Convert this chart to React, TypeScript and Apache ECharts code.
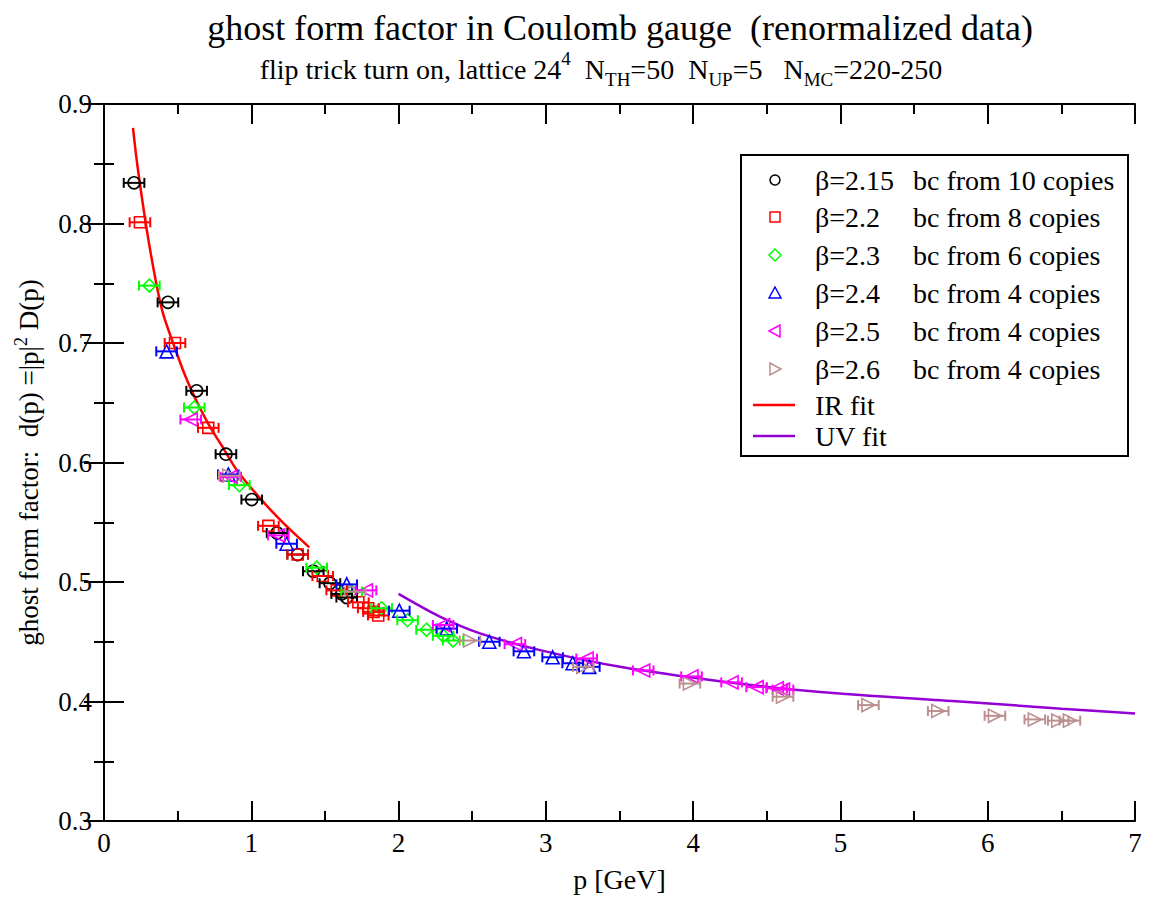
import React, { useEffect, useRef } from "react";
import * as echarts from "echarts";

// ---------- data ----------
const BETA_LABELS = ["β=2.15", "β=2.2", "β=2.3", "β=2.4", "β=2.5", "β=2.6"];
const COPIES_LABELS = [
  "bc from 10 copies",
  "bc from 8 copies",
  "bc from 6 copies",
  "bc from 4 copies",
  "bc from 4 copies",
  "bc from 4 copies",
];
const FIT_LABELS = ["IR fit", "UV fit"];

// [p, d(p)]
const B215 = [
  [0.204, 0.834], [0.434, 0.734], [0.629, 0.66], [0.828, 0.607], [1.003, 0.569],
  [1.175, 0.541], [1.315, 0.523], [1.421, 0.509], [1.534, 0.499], [1.614, 0.49], [1.648, 0.487],
];
const B22 = [
  [0.244, 0.801], [0.482, 0.7], [0.708, 0.629], [1.116, 0.547], [1.315, 0.523], [1.485, 0.505],
  [1.58, 0.493], [1.727, 0.483], [1.794, 0.478], [1.83, 0.475], [1.862, 0.472],
];
const B23 = [
  [0.308, 0.748], [0.613, 0.646], [0.919, 0.581], [1.444, 0.512], [1.681, 0.492], [1.885, 0.478],
  [2.061, 0.468], [2.19, 0.46], [2.303, 0.455], [2.37, 0.451],
];
const B24 = [
  [0.425, 0.693], [0.844, 0.59], [1.24, 0.532], [1.648, 0.498], [2.005, 0.476], [2.327, 0.461],
  [2.616, 0.45], [2.851, 0.442], [3.046, 0.437], [3.182, 0.432], [3.295, 0.429],
];
const B25 = [
  [0.589, 0.636], [0.86, 0.588], [1.183, 0.539], [1.779, 0.493], [2.303, 0.464], [2.79, 0.448],
  [3.277, 0.436], [3.661, 0.426], [3.989, 0.421], [4.261, 0.416], [4.431, 0.412], [4.567, 0.411],
  [4.61, 0.41],
];
const B26 = [
  [0.85, 0.589], [1.704, 0.492], [2.485, 0.451], [3.254, 0.429], [3.978, 0.415], [4.61, 0.404],
  [5.19, 0.397], [5.664, 0.392], [6.049, 0.388], [6.32, 0.385], [6.479, 0.384], [6.558, 0.384],
];
const DATASETS = [B215, B22, B23, B24, B25, B26];
// horizontal error half-width in p for each beta
const XERR = [0.07, 0.07, 0.07, 0.07, 0.07, 0.07];

const IR_FIT = [
  [0.197, 0.88], [0.22, 0.855], [0.25, 0.828], [0.29, 0.795], [0.35, 0.753],
  [0.4, 0.725], [0.475, 0.698], [0.55, 0.673], [0.63, 0.651], [0.71, 0.632],
  [0.8, 0.614], [0.9, 0.594], [1.06, 0.57], [1.22, 0.549], [1.394, 0.529],
];
const UV_FIT = [
  [2.0, 0.49], [2.28, 0.471], [2.553, 0.457], [2.96, 0.443], [3.503, 0.429],
  [4.182, 0.417], [4.861, 0.408], [5.811, 0.4], [6.5, 0.394], [7.0, 0.39],
];

// ---------- styles ----------
const COLORS = ["#000000", "#ff0000", "#00ff00", "#0000ff", "#ff00ff", "#bc8f8f"];
const FIT_COLORS = ["#ff0000", "#9400d3"];
const SYMBOLS = ["circle", "rect", "diamond", "triangle", "triangle", "triangle"];
const ROTATES = [0, 0, 0, 0, 90, -90];
const SYMBOL_SIZES = [12, 11, 13, 13, 13, 13];
const FONT = '"Liberation Serif", "DejaVu Serif", serif';

function legendMarker(i: number, cx: number, cy: number) {
  const style = { fill: "none", stroke: COLORS[i], lineWidth: 1.5 };
  switch (i) {
    case 0:
      return { type: "circle", shape: { cx, cy, r: 5 }, style };
    case 1:
      return { type: "rect", shape: { x: cx - 5, y: cy - 5, width: 10, height: 10 }, style };
    case 2:
      return { type: "polygon", shape: { points: [[cx, cy - 6], [cx + 6, cy], [cx, cy + 6], [cx - 6, cy]] }, style };
    case 3:
      return { type: "polygon", shape: { points: [[cx, cy - 6], [cx + 6, cy + 5], [cx - 6, cy + 5]] }, style };
    case 4:
      return { type: "polygon", shape: { points: [[cx - 6, cy], [cx + 5, cy - 6], [cx + 5, cy + 6]] }, style };
    default:
      return { type: "polygon", shape: { points: [[cx + 6, cy], [cx - 5, cy - 6], [cx - 5, cy + 6]] }, style };
  }
}

export default function App() {
  const ref = useRef<HTMLDivElement>(null);

  useEffect(() => {
    if (!ref.current) return;
    const chart = echarts.init(ref.current, undefined, { renderer: "svg" });

    const axisLine = { show: true, lineStyle: { color: "#000", width: 2 } };
    const axisTick = { show: true, inside: true, length: 20, lineStyle: { color: "#000", width: 2 } };
    const minorTick = { show: true, splitNumber: 2, length: 10, lineStyle: { color: "#000", width: 2 } };
    const labelStyle = { fontFamily: FONT, fontSize: 27, color: "#000" };

    const scatterSeries = DATASETS.map((d, i) => ({
      type: "scatter",
      name: BETA_LABELS[i] + " " + COPIES_LABELS[i],
      data: d,
      symbol: SYMBOLS[i],
      symbolSize: SYMBOL_SIZES[i],
      symbolRotate: ROTATES[i],
      itemStyle: { color: "rgba(0,0,0,0)", borderColor: COLORS[i], borderWidth: 1.6, opacity: 1 },
      z: 3,
    }));

    const errorSeries = DATASETS.map((d, i) => ({
      type: "custom",
      name: BETA_LABELS[i] + " error",
      data: d.map((p) => [p[0], p[1], XERR[i]]),
      encode: { x: 0, y: 1 },
      z: 4,
      renderItem: (params: any, api: any) => {
        const x = api.value(0);
        const y = api.value(1);
        const e = api.value(2);
        const l = api.coord([x - e, y]);
        const r = api.coord([x + e, y]);
        const st = { stroke: COLORS[i], lineWidth: 2 };
        return {
          type: "group",
          children: [
            { type: "line", shape: { x1: l[0], y1: l[1], x2: r[0], y2: r[1] }, style: st },
            { type: "line", shape: { x1: l[0], y1: l[1] - 5, x2: l[0], y2: l[1] + 5 }, style: st },
            { type: "line", shape: { x1: r[0], y1: r[1] - 5, x2: r[0], y2: r[1] + 5 }, style: st },
          ],
        };
      },
    }));

    const fitSeries = [IR_FIT, UV_FIT].map((d, i) => ({
      type: "line",
      name: FIT_LABELS[i],
      data: d,
      smooth: 0.3,
      showSymbol: false,
      lineStyle: { color: FIT_COLORS[i], width: 2.5 },
      z: 2,
    }));

    // legend drawn as graphic
    const rowsY = [180, 217, 255, 293, 331, 369];
    const fitRowsY = [405, 436];
    const legendChildren: any[] = [
      { type: "rect", shape: { x: 741, y: 155, width: 387, height: 301 }, style: { fill: "#fff", stroke: "#000", lineWidth: 2 } },
    ];
    rowsY.forEach((y, i) => {
      legendChildren.push(legendMarker(i, 775, y));
      legendChildren.push({
        type: "text", x: 815, y,
        style: { text: BETA_LABELS[i], fontFamily: FONT, fontSize: 28, fill: "#000", align: "left", verticalAlign: "middle" },
      });
      legendChildren.push({
        type: "text", x: 913, y,
        style: { text: COPIES_LABELS[i], fontFamily: FONT, fontSize: 28, fill: "#000", align: "left", verticalAlign: "middle" },
      });
    });
    fitRowsY.forEach((y, i) => {
      legendChildren.push({ type: "line", shape: { x1: 753, y1: y, x2: 795, y2: y }, style: { stroke: FIT_COLORS[i], lineWidth: 2.5 } });
      legendChildren.push({
        type: "text", x: 815, y,
        style: { text: FIT_LABELS[i], fontFamily: FONT, fontSize: 28, fill: "#000", align: "left", verticalAlign: "middle" },
      });
    });

    chart.setOption({
      animation: false,
      backgroundColor: "#fff",
      grid: { left: 104, top: 104, right: 17, bottom: 73, containLabel: false },
      xAxis: [
        {
          type: "value", min: 0, max: 7, interval: 1, position: "bottom",
          axisLine, axisTick, minorTick, splitLine: { show: false }, minorSplitLine: { show: false },
          axisLabel: { ...labelStyle, margin: 8 },
          name: "p [GeV]", nameLocation: "middle", nameGap: 44,
          nameTextStyle: { fontFamily: FONT, fontSize: 28, color: "#000" },
        },
        {
          type: "value", min: 0, max: 7, interval: 1, position: "top",
          axisLine, axisTick, minorTick, splitLine: { show: false }, axisLabel: { show: false },
        },
      ],
      yAxis: [
        {
          type: "value", min: 0.3, max: 0.9, interval: 0.1, position: "left",
          axisLine, axisTick, minorTick, splitLine: { show: false }, minorSplitLine: { show: false },
          axisLabel: { ...labelStyle, margin: 12, formatter: (v: number) => v.toFixed(1) },
          name: "{n|ghost form factor:  d(p) =|p|}{sup|2}{n| D(p)}",
          nameLocation: "middle", nameGap: 58, nameRotate: 90,
          nameTextStyle: {
            fontFamily: FONT, fontSize: 27, color: "#000",
            rich: {
              n: { fontFamily: FONT, fontSize: 27, color: "#000", lineHeight: 34, verticalAlign: "middle" },
              sup: { fontFamily: FONT, fontSize: 18, color: "#000", lineHeight: 18, verticalAlign: "top" },
            },
          },
        },
        {
          type: "value", min: 0.3, max: 0.9, interval: 0.1, position: "right",
          axisLine, axisTick, minorTick, splitLine: { show: false }, axisLabel: { show: false },
        },
      ],
      graphic: [
        {
          type: "text", x: 620, y: 28, z: 10,
          style: {
            text: "ghost form factor in Coulomb gauge  (renormalized data)",
            fontFamily: FONT, fontSize: 36, fill: "#000", align: "center", verticalAlign: "middle",
          },
        },
        {
          type: "text", x: 601, y: 69, z: 10,
          style: {
            text: "{n|flip trick turn on, lattice 24}{sup|4}{n|  N}{sub|TH}{n|=50  N}{sub|UP}{n|=5   N}{sub|MC}{n|=220-250}",
            fill: "#000", align: "center", verticalAlign: "middle",
            rich: {
              n: { fontFamily: FONT, fontSize: 28, fill: "#000", lineHeight: 40, verticalAlign: "middle" },
              sub: { fontFamily: FONT, fontSize: 19, fill: "#000", lineHeight: 19, verticalAlign: "bottom" },
              sup: { fontFamily: FONT, fontSize: 19, fill: "#000", lineHeight: 26, verticalAlign: "top" },
            },
          },
        },
        { type: "group", z: 20, children: legendChildren },
      ],
      series: [...fitSeries, ...scatterSeries, ...errorSeries],
    });

    return () => chart.dispose();
  }, []);

  return (
    <div
      ref={ref}
      style={{ position: "fixed", left: 0, top: 0, width: 1152, height: 898, background: "#fff" }}
    />
  );
}
